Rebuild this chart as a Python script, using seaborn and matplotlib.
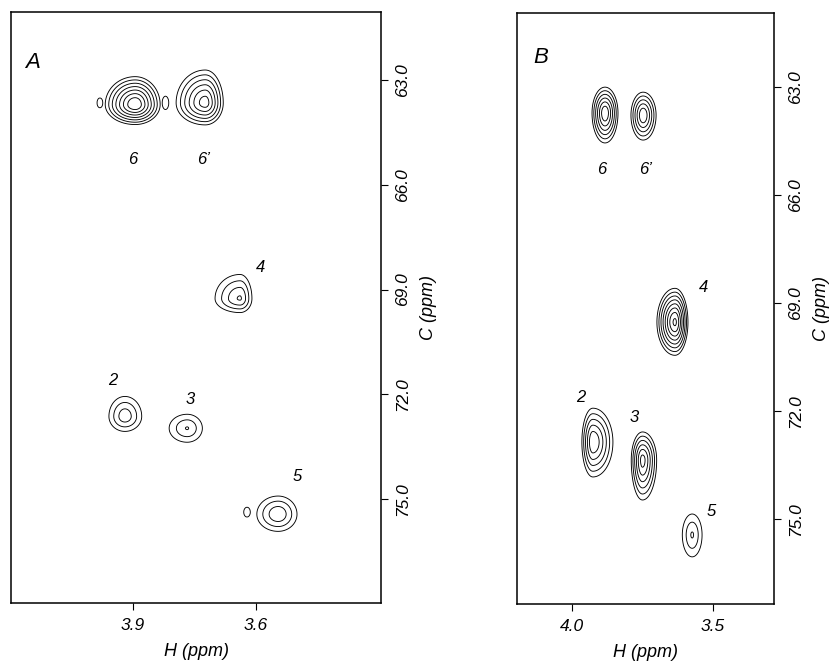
import numpy as np
import matplotlib
matplotlib.use("Agg")
import matplotlib.pyplot as plt
import seaborn as sns

sns.set_theme(style="white")
plt.rcParams['font.family'] = ['Liberation Sans', 'DejaVu Sans']

# ---------------- data ----------------
# Panel A cross peaks: centre (1H ppm, 13C ppm), height in contour steps,
# outer-contour half widths (left / right in H, up / down in C)
a_labels = ["6", "6\u2019", "4", "2", "3", "5"]
a_h = [3.895, 3.724, 3.639, 3.920, 3.768, 3.546]
a_c = [63.71, 63.66, 69.26, 72.63, 72.97, 75.43]
a_height = [6.9, 5.5, 3.1, 2.7, 2.05, 2.9]
a_wl = [0.073, 0.071, 0.061, 0.039, 0.044, 0.052]
a_wr = [0.061, 0.044, 0.029, 0.041, 0.037, 0.046]
a_wu = [0.80, 0.94, 0.69, 0.57, 0.40, 0.52]
a_wd = [0.57, 0.63, 0.40, 0.43, 0.40, 0.49]
a_lab_h = [3.900, 3.727, 3.590, 3.949, 3.761, 3.500]
a_lab_c = [65.29, 65.29, 68.37, 71.60, 72.14, 74.34]
# small separate islands in panel A
ax_h = [3.981, 3.821, 3.622]
ax_c = [63.66, 63.66, 75.37]
ax_height = [0.4, 0.4, 0.4]
ax_wh = [0.007, 0.008, 0.008]
ax_wc = [0.14, 0.19, 0.14]

# Panel B cross peaks
b_labels = ["6", "6\u2019", "4", "2", "3", "5"]
b_h = [3.883, 3.748, 3.635, 3.926, 3.750, 3.574]
b_c = [63.72, 63.78, 69.53, 72.86, 73.36, 75.44]
b_height = [5.85, 4.9, 7.2, 4.95, 5.4, 2.1]
b_wl = [0.046, 0.043, 0.064, 0.039, 0.040, 0.035]
b_wr = [0.046, 0.046, 0.046, 0.071, 0.050, 0.035]
b_wu = [0.72, 0.64, 0.94, 0.94, 0.78, 0.58]
b_wd = [0.83, 0.69, 0.92, 0.97, 1.11, 0.61]
b_lab_h = [3.894, 3.738, 3.535, 3.968, 3.780, 3.507]
b_lab_c = [65.30, 65.30, 68.58, 71.61, 72.19, 74.78]

level_factor = 1.5
levels = [level_factor ** k for k in range(9)]

a_xticks = [3.9, 3.6]
b_xticks = [4.0, 3.5]
yticks = [63.0, 66.0, 69.0, 72.0, 75.0]
# -------------------------------------------------------------

W, H = 833, 662
fig = plt.figure(figsize=(W / 100, H / 100), dpi=100)
axA = fig.add_axes([11 / W, 1 - 603 / H, 370 / W, 591 / H])
axB = fig.add_axes([517 / W, 1 - 604 / H, 257 / W, 591 / H])

EPS = 0.25
RS1 = np.sqrt(1 + EPS ** 2) - EPS


def rho_s(hh, cc, h0, c0, wl, wr, wu, wd):
    dx = hh - h0
    dy = cc - c0
    wh = np.where(dx > 0, wl, wr)
    wc = np.where(dy < 0, wu, wd)
    rho = np.sqrt((dx / wh) ** 2 + (dy / wc) ** 2)
    return np.sqrt(rho ** 2 + EPS ** 2) - EPS


def peak(hh, cc, h0, c0, height, wl, wr, wu, wd):
    rs = rho_s(hh, cc, h0, c0, wl, wr, wu, wd)
    m = height / RS1
    return level_factor ** (height - m * rs)


def small(hh, cc, h0, c0, height, wh, wc):
    rs = rho_s(hh, cc, h0, c0, wh, wh, wc, wc)
    m = 5.0 / RS1
    return level_factor ** np.minimum(height, m * (RS1 - rs))


def draw(ax, xlim, ylim, hs, cs, hts, wls, wrs, wus, wds, labs, lh, lc,
         letter, lpos, xt, extra=None):
    hgrid = np.linspace(xlim[1] - 0.01, xlim[0] + 0.01, 900)
    cgrid = np.linspace(ylim[1] - 0.2, ylim[0] + 0.2, 900)
    hh, cc = np.meshgrid(hgrid, cgrid)
    fields = []
    for i in range(len(hs)):
        fields.append(peak(hh, cc, hs[i], cs[i], hts[i], wls[i], wrs[i],
                           wus[i], wds[i]))
    if extra is not None:
        for h0, c0, ht, wh, wc in zip(*extra):
            fields.append(small(hh, cc, h0, c0, ht, wh, wc))
    for z in fields:
        ax.contour(hh, cc, z, levels=levels, colors="black", linewidths=0.65)
    for t, x, y in zip(labs, lh, lc):
        ax.text(x, y, t, fontsize=12, style="italic", ha="center",
                va="center", color="black")
    ax.text(lpos[0], lpos[1], letter, transform=ax.transAxes, fontsize=16,
            style="italic", ha="center", va="center", color="black")
    ax.set_xlim(*xlim)
    ax.set_ylim(*ylim)
    ax.set_xticks(xt)
    ax.set_xticklabels([f"{v:.1f}" for v in xt])
    ax.set_yticks(yticks)
    ax.set_yticklabels([f"{v:.1f}" for v in yticks])
    ax.yaxis.tick_right()
    ax.yaxis.set_label_position("right")
    ax.tick_params(axis="x", bottom=True, top=False, direction="out",
                   length=5, width=0.8, color="black", labelsize=12.5,
                   pad=6, labelcolor="black")
    ax.tick_params(axis="y", right=True, left=False, direction="out",
                   length=5, width=0.8, color="black", labelsize=12.5,
                   pad=5, labelrotation=90, labelcolor="black")
    for lab in ax.get_xticklabels() + ax.get_yticklabels():
        lab.set_fontstyle("italic")
    for lab in ax.get_yticklabels():
        lab.set_va("center")
    ax.set_xlabel("H (ppm)", fontsize=13, style="italic", labelpad=7,
                  color="black")
    ax.set_ylabel("C (ppm)", fontsize=13, style="italic", labelpad=7,
                  color="black", rotation=90)
    for s in ax.spines.values():
        s.set_color("black")
        s.set_linewidth(1.1)
        s.set_visible(True)
    ax.grid(False)


draw(axA, (4.198, 3.295), (77.97, 61.06), a_h, a_c, a_height, a_wl, a_wr,
     a_wu, a_wd, a_labels, a_lab_h, a_lab_c, "A", (0.057, 0.915), a_xticks,
     extra=(ax_h, ax_c, ax_height, ax_wh, ax_wc))
draw(axB, (4.195, 3.284), (77.36, 60.94), b_h, b_c, b_height, b_wl, b_wr,
     b_wu, b_wd, b_labels, b_lab_h, b_lab_c, "B", (0.093, 0.924), b_xticks)

fig.savefig("out.png", dpi=100, facecolor="white")
